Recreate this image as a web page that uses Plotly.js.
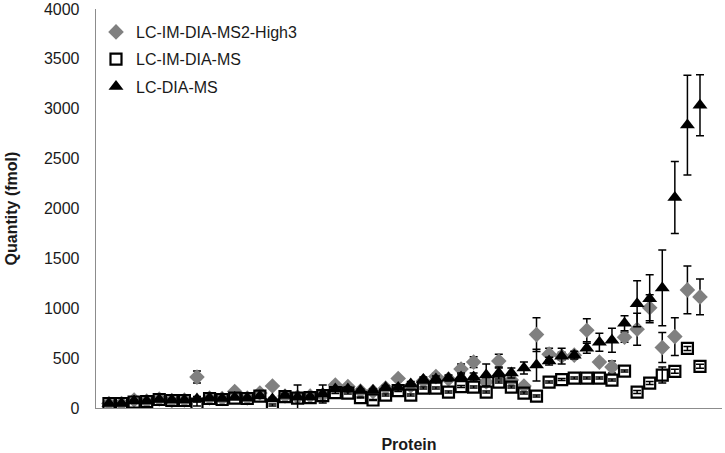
<!DOCTYPE html>
<html>
<head>
<meta charset="utf-8">
<script src="https://cdn.plot.ly/plotly-3.0.1.min.js"></script>
<style>html,body{margin:0;padding:0;background:#fff;}#chart{width:725px;height:453px;}</style>
</head>
<body>
<div id="chart"></div>
<script>
// Protein index (categories, unlabeled in the original)
const proteins = Array.from({length: 48}, (_, i) => 'P' + (i + 1));

const seriesNames = ['LC-IM-DIA-MS2-High3', 'LC-IM-DIA-MS', 'LC-DIA-MS'];

// LC-IM-DIA-MS2-High3 (grey diamonds)
const high3 = [45, 45, 80, 70, 90, 75, 80, 310, 100, 95,
               165, 100, 150, 220, 120, 110, 120, 130, 230, 215,
               170, 165, 200, 295, 220, 270, 315, 290, 390, 460,
               260, 470, 280, 220, 736, 540, 520, 530, 780, 460,
               410, 710, 790, 1005, 607, 716, 1184, 1114];
const high3Err = [10, 10, 15, 10, 10, 10, 10, 60, 10, 10,
                  20, 10, 15, 20, 15, 10, 15, 15, 25, 20,
                  15, 15, 20, 20, 20, 25, 30, 25, 50, 55,
                  30, 70, 30, 25, 170, 60, 40, 35, 115, 25,
                  60, 50, 160, 130, 150, 190, 240, 180];

// LC-IM-DIA-MS (open squares)
const imdia = [45, 45, 60, 65, 85, 75, 75, 40, 95, 85,
               100, 95, 120, 30, 115, 100, 105, 125, 155, 150,
               105, 80, 130, 175, 130, 200, 200, 160, 215, 210,
               160, 260, 210, 150, 120, 260, 285, 300, 300, 300,
               280, 370, 160, 250, 330, 368, 597, 418];
const imdiaErr = [5, 5, 5, 5, 5, 5, 5, 20, 5, 5,
                  5, 5, 5, 10, 5, 5, 5, 5, 10, 10,
                  5, 5, 10, 10, 10, 10, 10, 10, 10, 10,
                  10, 10, 10, 10, 10, 10, 10, 10, 10, 10,
                  10, 10, 15, 15, 80, 20, 20, 20];

// LC-DIA-MS (black triangles)
const dia = [45, 45, 70, 70, 85, 80, 80, 90, 100, 95,
             105, 100, 120, 90, 125, 110, 110, 140, 190, 190,
             175, 175, 205, 205, 240, 285, 290, 300, 310, 310,
             330, 350, 350, 400, 430, 470, 520, 530, 600, 660,
             680, 850, 1045, 1095, 1204, 2110, 2836, 3035];
const diaErr = [5, 5, 10, 10, 10, 10, 10, 25, 10, 10,
                10, 10, 10, 15, 15, 120, 15, 90, 20, 20,
                15, 15, 20, 20, 25, 25, 30, 30, 40, 40,
                110, 60, 50, 60, 160, 40, 80, 40, 50, 90,
                120, 75, 230, 240, 380, 360, 500, 305];

const xIdx = proteins.map((_, i) => i);

function errSpec(arr) {
  return {type: 'data', array: arr, visible: true, color: '#000000', thickness: 1.5, width: 4};
}

const traces = [
  {x: xIdx, y: high3, name: seriesNames[0], legendgroup: 'a', type: 'scatter', mode: 'markers',
   marker: {symbol: 'diamond', size: 12, color: '#808080'},
   error_y: errSpec(high3Err), text: proteins},
  {x: xIdx, y: imdia, name: seriesNames[1], legendgroup: 'b', type: 'scatter', mode: 'markers',
   marker: {symbol: 'square-open', size: 11, color: '#000000', line: {width: 2.2, color: '#000000'}},
   error_y: errSpec(imdiaErr), text: proteins},
  {x: xIdx, y: dia, name: seriesNames[2], legendgroup: 'c', type: 'scatter', mode: 'markers',
   marker: {symbol: 'triangle-up', size: 13, color: '#000000'},
   error_y: errSpec(diaErr), text: proteins}
];

const layout = {
  width: 725, height: 453,
  margin: {l: 96, r: 3, t: 9, b: 45},
  paper_bgcolor: '#ffffff', plot_bgcolor: '#ffffff',
  font: {family: 'Liberation Sans, Arial, sans-serif', color: '#1a1a1a', size: 16},
  showlegend: true,
  legend: {x: 0.0, y: 0.985, xanchor: 'left', yanchor: 'top', bgcolor: 'rgba(255,255,255,0)',
           traceorder: 'grouped', tracegroupgap: 3.5,
           font: {size: 16, color: '#1a1a1a'}},
  xaxis: {range: [-1.03, 48.75], showline: true, linecolor: '#8c8c8c', linewidth: 1.3,
          showgrid: false, zeroline: false, showticklabels: false, ticks: '',
          title: {text: 'Protein', font: {size: 16, color: '#1a1a1a', weight: 'bold'}, standoff: 38}},
  yaxis: {range: [0, 4000], dtick: 500, showline: true, linecolor: '#8c8c8c', linewidth: 1.3,
          showgrid: false, zeroline: false, ticks: '', ticklabelstandoff: 12,
          ticklabeloverflow: 'allow',
          tickfont: {size: 16, color: '#1a1a1a'},
          title: {text: 'Quantity (fmol)', font: {size: 16, color: '#1a1a1a', weight: 'bold'}, standoff: 22}}
};

Plotly.newPlot('chart', traces, layout, {displayModeBar: false, staticPlot: true});
</script>
</body>
</html>
